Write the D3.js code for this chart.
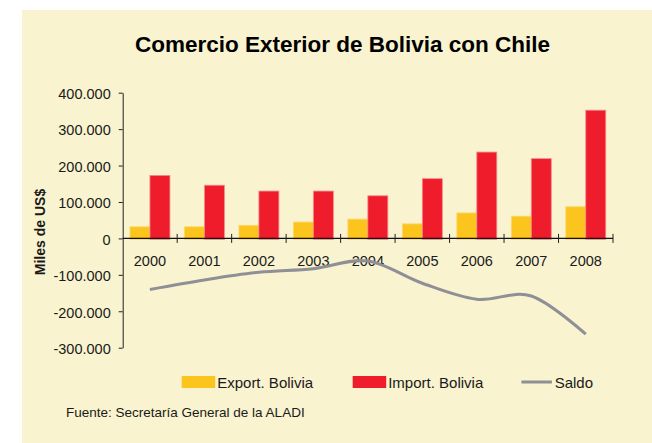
<!DOCTYPE html>
<html>
<head>
<meta charset="utf-8">
<script src="https://cdn.jsdelivr.net/npm/d3@7"></script>
<style>
  body { margin: 0; background: #fff; }
  text { font-family: "Liberation Sans", Arial, sans-serif; fill: #1a1a1a; }
</style>
</head>
<body>
<div id="chart"></div>
<script>
// valores en miles de US$
let years = ["2000", "2001", "2002", "2003", "2004", "2005", "2006", "2007", "2008"];
let exportBolivia = [32000, 32000, 36000, 45000, 53000, 40000, 70000, 61000, 87000];
let importBolivia = [173000, 146000, 130000, 130000, 117000, 164000, 237000, 219000, 352000];
let saldo = [-140000, -114000, -93000, -83000, -62000, -123000, -167000, -158000, -263000];
let yTicks = [400000, 300000, 200000, 100000, 0, -100000, -200000, -300000];
let seriesNames = ["Export. Bolivia", "Import. Bolivia", "Saldo"];
let seriesColors = ["#fbc51e", "#ef1d2b", "#8f8f96"];

function drawChart(width, height) {
    let margin = {top: 92.7, right: 39, bottom: 95.3, left: 122.7};
    let plotW = width - margin.left - margin.right;
    let plotH = height - margin.top - margin.bottom;

    d3.select("#chart").selectAll("*").remove();
    let svg = d3.select("#chart").append("svg")
        .attr("width", width)
        .attr("height", height);

    // fondo
    svg.append("rect")
        .attr("x", 22).attr("y", 10)
        .attr("width", width - 22).attr("height", height - 10)
        .style("fill", "#f9f3cf");

    svg.append("text")
        .attr("x", 135).attr("y", 52)
        .style("font-size", "22.5px")
        .style("font-weight", "bold")
        .style("fill", "#000")
        .text("Comercio Exterior de Bolivia con Chile");

    let g = svg.append("g")
        .attr("transform", "translate(" + margin.left + " " + margin.top + ")");

    let x = d3.scaleBand().domain(years).range([0, plotW]);
    let bw = x.bandwidth();
    let x1 = d3.scaleBand().domain([0, 1]).range([bw * 0.133, bw * 0.867]);
    let y = d3.scaleLinear().domain([-300000, 400000]).range([plotH, 0]);

    let locale = d3.formatLocale({decimal: ",", thousands: ".", grouping: [3], currency: ["", ""], minus: "-"});
    let fmt = locale.format(",.0f");

    // barras
    let bars = [exportBolivia, importBolivia];
    bars.forEach(function (vals, s) {
        g.append("g")
            .selectAll("rect")
            .data(vals)
            .enter()
            .append("rect")
            .attr("x", function (d, i) { return x(years[i]) + x1(s); })
            .attr("y", function (d) { return y(d); })
            .attr("width", x1.bandwidth())
            .attr("height", function (d) { return y(0) - y(d) + 1; })
            .style("fill", seriesColors[s])
            .style("stroke", s === 0 ? "#fcd878" : "#f58a8a")
            .style("stroke-width", 0.8);
    });

    // eje Y
    let yAxis = g.append("g")
        .call(d3.axisLeft(y).tickValues(yTicks).tickSize(4).tickSizeOuter(0).tickPadding(8).tickFormat(fmt));
    yAxis.select(".domain").style("stroke", "#222");
    yAxis.selectAll(".tick line").style("stroke", "#222");
    yAxis.selectAll(".tick text")
        .style("font-size", "14.5px")
        .style("font-family", "'Liberation Sans', Arial, sans-serif")
        .style("fill", "#1a1a1a")
        .attr("dy", "0.4em");

    // eje X en cero
    g.append("line")
        .attr("x1", 0).attr("x2", plotW)
        .attr("y1", y(0)).attr("y2", y(0))
        .style("stroke", "#111").style("stroke-width", 1.2);
    g.append("g")
        .selectAll("line")
        .data(years)
        .enter()
        .append("line")
        .attr("x1", function (d) { return x(d) + bw; })
        .attr("x2", function (d) { return x(d) + bw; })
        .attr("y1", y(0) - 4.5)
        .attr("y2", y(0) + 4.5)
        .style("stroke", "#222");
    g.append("g")
        .selectAll("text")
        .data(years)
        .enter()
        .append("text")
        .attr("x", function (d) { return x(d) + bw / 2; })
        .attr("y", y(0) + 27.5)
        .style("text-anchor", "middle")
        .style("font-size", "14.5px")
        .text(function (d) { return d; });

    // linea de saldo
    let line = d3.line()
        .x(function (d, i) { return x(years[i]) + bw / 2; })
        .y(function (d) { return y(d); })
        .curve(d3.curveCardinal.tension(0));
    g.append("path")
        .datum(saldo)
        .attr("d", line)
        .style("fill", "none")
        .style("stroke", seriesColors[2])
        .style("stroke-width", 3);

    // titulo eje Y
    svg.append("text")
        .attr("transform", "translate(45 232) rotate(-90)")
        .style("text-anchor", "middle")
        .style("font-size", "14px")
        .style("font-weight", "bold")
        .text("Miles de US$");

    // leyenda
    let leg = svg.append("g");
    let legX = [181.7, 352.7, 521.4];
    seriesNames.forEach(function (name, i) {
        if (i < 2) {
            leg.append("rect")
                .attr("x", legX[i]).attr("y", 376)
                .attr("width", 33.5).attr("height", 12)
                .style("fill", seriesColors[i]);
        } else {
            leg.append("line")
                .attr("x1", legX[i]).attr("x2", legX[i] + 30.5)
                .attr("y1", 382).attr("y2", 382)
                .style("stroke", seriesColors[i])
                .style("stroke-width", 3);
        }
        leg.append("text")
            .attr("x", legX[i] + (i < 2 ? 35.5 : 33.3))
            .attr("y", 387.5)
            .style("font-size", "15px")
            .text(name);
    });

    svg.append("text")
        .attr("x", 66).attr("y", 417)
        .style("font-size", "13.5px")
        .text("Fuente: Secretaría General de la ALADI");
}

drawChart(652, 443);
</script>
</body>
</html>
